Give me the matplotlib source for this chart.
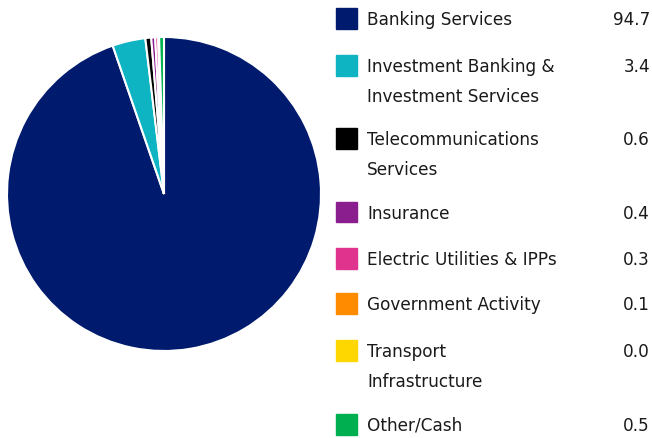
import matplotlib
matplotlib.use("Agg")
import matplotlib.pyplot as plt
from matplotlib.patches import Rectangle

# sectores y pesos (%)
sectores = ["Banking Services", "Investment Banking &\nInvestment Services",
            "Telecommunications\nServices", "Insurance",
            "Electric Utilities & IPPs", "Government Activity",
            "Transport\nInfrastructure", "Other/Cash"]
pesos = [94.7, 3.4, 0.6, 0.4, 0.3, 0.1, 0.0, 0.5]
etiquetas_valor = ["94.7", "3.4", "0.6", "0.4", "0.3", "0.1", "0.0", "0.5"]
colores = ["#001A6E", "#0FB4C3", "#000000", "#8B1E8E",
           "#E0338E", "#FF8C00", "#FFD700", "#00B050"]

W, H = 652, 438
fig = plt.figure(figsize=(W / 100, H / 100), dpi=100)

# pastel: centro ~ (164, 194), radio ~157 px
cx, cy, r = 164, 194, 157
ax = fig.add_axes([(cx - r) / W, 1 - (cy + r) / H, 2 * r / W, 2 * r / H])
ax.pie(pesos, colors=colores, startangle=90, counterclock=False,
       wedgeprops=dict(edgecolor="white", linewidth=1.5))
ax.set_aspect("equal")
ax.set_xlim(-1, 1)
ax.set_ylim(-1, 1)

# leyenda manual
filas_y = [18, 65, 138, 212, 258, 303, 350, 424]
fuente = ["DejaVu Sans"]
tam = 12.2
for nombre, valor, color, y in zip(sectores, etiquetas_valor, colores, filas_y):
    fig.patches.append(Rectangle((336 / W, 1 - (y + 10.5) / H), 21 / W, 21 / H,
                                 transform=fig.transFigure, color=color))
    for i, linea in enumerate(nombre.split("\n")):
        fig.text(367 / W, 1 - (y + 30 * i) / H, linea, ha="left",
                 va="center_baseline", fontsize=tam, family=fuente,
                 color="#1a1a1a")
    fig.text(650 / W, 1 - y / H, valor, ha="right", va="center_baseline",
             fontsize=tam, family=fuente, color="#1a1a1a")

fig.savefig("out.png", dpi=100)
